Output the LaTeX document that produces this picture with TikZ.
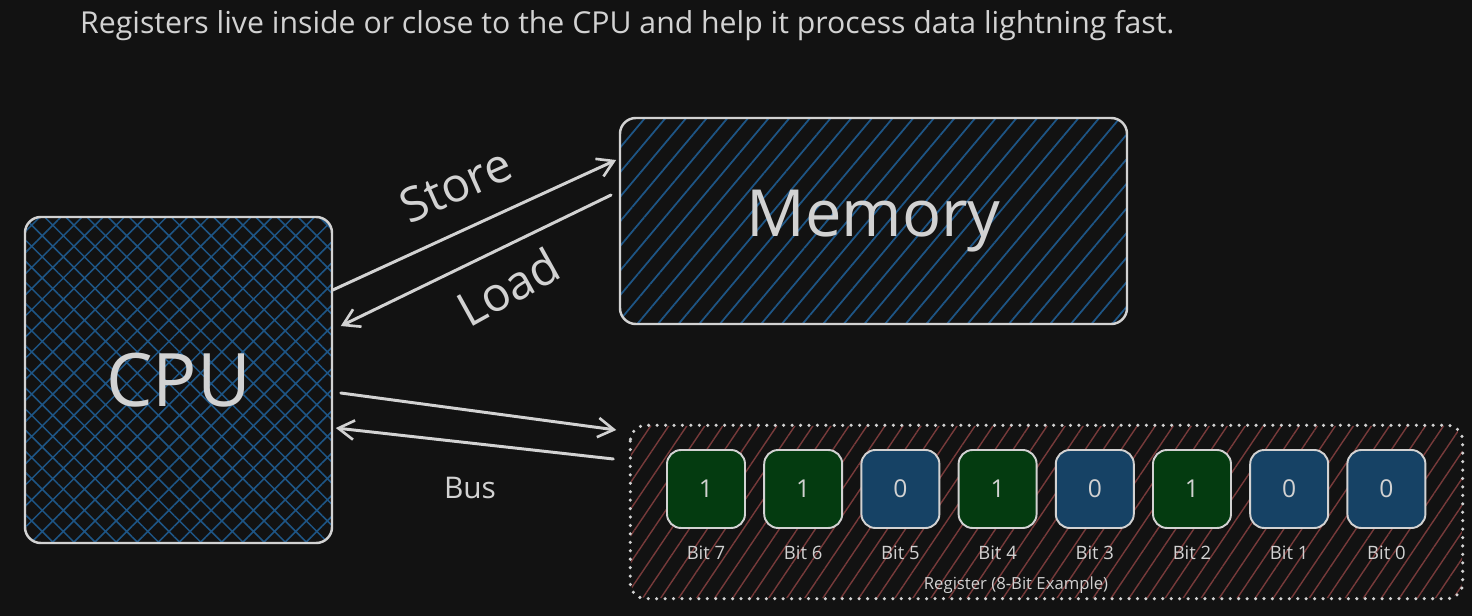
\documentclass[tikz,border=0pt]{standalone}
\usepackage{fontspec}
\setmainfont{Open Sans}
\usetikzlibrary{arrows.meta,patterns.meta,positioning}
\definecolor{bgdark}{HTML}{121212}
\definecolor{inkgray}{HTML}{D2D2D2}
\definecolor{hatchblue}{HTML}{1E5585}
\definecolor{hatchred}{HTML}{773A3A}
\definecolor{onegreen}{HTML}{043B10}
\definecolor{zeroblue}{HTML}{164265}
\begin{document}
\begin{tikzpicture}
	[
		x=0.2mm, y=-0.2mm,
		every node/.style={text=inkgray},
		flow/.style={draw=inkgray, line width=1.7pt, line cap=round, -{Straight Barb[length=9pt,width=11pt,line width=1.5pt]}}
	]
	\tikzstyle{Unit} = [rectangle, rounded corners=9pt, draw=inkgray, line width=1.4pt, inner sep=0pt]
	\tikzstyle{BitBox} = [rectangle, rounded corners=8pt, draw=inkgray, line width=1.1pt, minimum width=15.6mm, minimum height=15.6mm, font=\fontsize{14}{16}\selectfont]
	\tikzstyle{val1} = [fill=onegreen]
	\tikzstyle{val0} = [fill=zeroblue]
	\fill[bgdark] (0,0) rectangle (1472,616);
	\useasboundingbox (0,0) rectangle (1472,616);
	\node [anchor=west, font=\fontsize{17.2}{20}\selectfont] (title) at (74,26) {Registers live inside or close to the CPU and help it process data lightning fast.};
	\node [Unit, minimum width=61.4mm, minimum height=65.2mm, pattern={Hatch[angle=45,distance=8.5pt,line width=0.9pt]}, pattern color=hatchblue, font=\fontsize{42}{46}\selectfont] (cpu) at (178.5,380) {CPU};
	\node [Unit, minimum width=101.4mm, minimum height=41.2mm, pattern={Lines[angle=50,distance=9pt,line width=1pt]}, pattern color=hatchblue, font=\fontsize{37}{40}\selectfont] (mem) at (873.5,221) {Memory};
	\node [Unit, draw=none, minimum width=166.2mm, minimum height=34.4mm, pattern={Lines[angle=56,distance=8.5pt,line width=0.8pt]}, pattern color=hatchred] (reg) at (1046.5,512) {};
	\draw [inkgray, line width=2pt, line cap=round, dash pattern=on 0pt off 4.8pt, rounded corners=9pt] (reg.north west) rectangle (reg.south east);
	\foreach \v [count=\i from 0] in {1,1,0,1,0,1,0,0}
	{
		\pgfmathtruncatemacro{\b}{7-\i}
		\node [BitBox, val\v] (bit\b) at (706+97.2*\i,489) {\v};
		\node [below=6pt of bit\b, font=\fontsize{10.5}{12}\selectfont] (bitlabel\b) {Bit \b};
	}
	\node [font=\fontsize{9.5}{11}\selectfont] (reglabel) at (1016,585) {Register (8-Bit Example)};
	\draw [flow] ([yshift=18mm]cpu.east) -- ([xshift=-0.6mm, yshift=12.2mm]mem.west);
	\draw [flow] ([xshift=-1.6mm, yshift=5.2mm]mem.west) -- ([xshift=1.6mm, yshift=10.8mm]cpu.east);
	\draw [flow] ([xshift=1.6mm, yshift=-2.6mm]cpu.east) -- ([xshift=-2.8mm, yshift=16.4mm]reg.west);
	\draw [flow] ([xshift=-3.4mm, yshift=10.6mm]reg.west) -- ([xshift=0.6mm, yshift=-9.6mm]cpu.east);
	\node [rotate=24, font=\fontsize{27}{30}\selectfont] (storelabel) at (456,185) {Store};
	\node [rotate=29, font=\fontsize{27}{30}\selectfont] (loadlabel) at (508,287) {Load};
	\node [font=\fontsize{17}{20}\selectfont] (buslabel) at (470,488) {Bus};
\end{tikzpicture}
\end{document}
